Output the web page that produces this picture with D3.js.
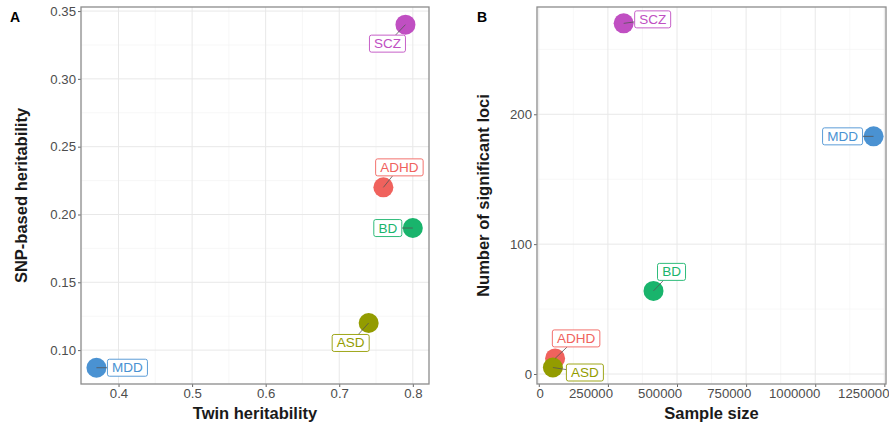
<!DOCTYPE html>
<html>
<head>
<meta charset="utf-8">
<script src="https://cdn.jsdelivr.net/npm/d3@7"></script>
<style>
  body { margin: 0; background: #fff; }
  svg { display: block; font-family: "Liberation Sans", Arial, sans-serif; }
  .tick-label { fill: #4d4d4d; font-size: 13.2px; }
  .axis-title { fill: #1a1a1a; font-weight: bold; }
  .panel-tag { fill: #000; font-size: 14px; font-weight: bold; }
</style>
</head>
<body>
<svg id="chart" width="889" height="422"></svg>
<script>
// ── Data ──
const disorders   = ["ADHD", "ASD", "BD", "MDD", "SCZ"];
const twinH       = [0.76, 0.74, 0.80, 0.37, 0.79];
const snpH        = [0.22, 0.12, 0.19, 0.087, 0.34];
const sampleSize  = [59000, 51000, 415000, 1211000, 307000];
const sigLoci     = [12, 5, 64, 183, 270];

const ticksA_x = [0.4, 0.5, 0.6, 0.7, 0.8];
const ticksA_y = [0.10, 0.15, 0.20, 0.25, 0.30, 0.35];
const ticksB_x = [0, 250000, 500000, 750000, 1000000, 1250000];
const ticksB_y = [0, 100, 200];

const colors = ["#f0625d", "#939c00", "#19b46c", "#4a92d2", "#c04fc2"];

// label offsets (px, from point centre to label-box centre) — layout only
const labelNudgeA = { ADHD: [16, -20], ASD: [-18, 20], BD: [-25, 0], MDD: [31, 0], SCZ: [-18, 19] };
const labelNudgeB = { ADHD: [21, -20], ASD: [32, 5], BD: [18, -19], MDD: [-31, 0], SCZ: [29, -4] };

const svg = d3.select("#chart");

function drawPanel(opt) {
  const g = svg.append("g");
  const x = d3.scaleLinear().domain(opt.xDomain).range([opt.left, opt.right]);
  const y = d3.scaleLinear().domain(opt.yDomain).range([opt.bottom, opt.top]);

  // ── Minor grid ──
  const minor = (t) => d3.range(t.length + 1).map(i => {
    const step = t[1] - t[0];
    return t[0] - step / 2 + i * step;
  });
  minor(opt.xTicks).filter(v => v > opt.xDomain[0] && v < opt.xDomain[1]).forEach(v => {
    g.append("line").attr("x1", x(v)).attr("x2", x(v)).attr("y1", opt.top).attr("y2", opt.bottom)
      .attr("stroke", "#f3f3f3").attr("stroke-width", 0.7);
  });
  minor(opt.yTicks).filter(v => v > opt.yDomain[0] && v < opt.yDomain[1]).forEach(v => {
    g.append("line").attr("x1", opt.left).attr("x2", opt.right).attr("y1", y(v)).attr("y2", y(v))
      .attr("stroke", "#f3f3f3").attr("stroke-width", 0.7);
  });

  // ── Major grid ──
  opt.xTicks.forEach(v => {
    g.append("line").attr("x1", x(v)).attr("x2", x(v)).attr("y1", opt.top).attr("y2", opt.bottom)
      .attr("stroke", "#e8e8e8").attr("stroke-width", 1);
  });
  opt.yTicks.forEach(v => {
    g.append("line").attr("x1", opt.left).attr("x2", opt.right).attr("y1", y(v)).attr("y2", y(v))
      .attr("stroke", "#e8e8e8").attr("stroke-width", 1);
  });

  // ── Axes ──
  const xAxis = g.append("g").attr("transform", `translate(0,${opt.bottom})`)
    .call(d3.axisBottom(x).tickValues(opt.xTicks).tickFormat(opt.xFormat).tickSize(3).tickPadding(2));
  const yAxis = g.append("g").attr("transform", `translate(${opt.left},0)`)
    .call(d3.axisLeft(y).tickValues(opt.yTicks).tickFormat(opt.yFormat).tickSize(3).tickPadding(2));
  [xAxis, yAxis].forEach(a => {
    a.select(".domain").remove();
    a.selectAll(".tick line").attr("stroke", "#666");
    a.selectAll(".tick text").attr("class", "tick-label").attr("font-family", null).attr("font-size", null);
  });
  if (opt.xAnchorEnd) xAxis.selectAll(".tick text").attr("text-anchor", "end").attr("dx", "0.35em");

  // ── Panel border ──
  g.append("rect")
    .attr("x", opt.left).attr("y", opt.top)
    .attr("width", opt.right - opt.left).attr("height", opt.bottom - opt.top)
    .attr("fill", "none").attr("stroke", "#8c8c8c").attr("stroke-width", 1.3);

  // ── Points ──
  const pts = disorders.map((d, i) => ({ name: d, px: x(opt.xs[i]), py: y(opt.ys[i]), color: colors[i] }));
  g.selectAll("circle.pt").data(pts).join("circle")
    .attr("class", "pt")
    .attr("cx", d => d.px).attr("cy", d => d.py).attr("r", 10)
    .attr("fill", d => d.color);

  // ── Repelled labels ──
  pts.forEach(d => {
    const [dx, dy] = opt.nudge[d.name];
    const cx = d.px + dx, cy = d.py + dy;
    const lab = g.append("g");
    const txt = lab.append("text")
      .attr("x", cx).attr("y", cy)
      .attr("text-anchor", "middle").attr("dominant-baseline", "central")
      .attr("font-size", "13.5px").attr("fill", d.color)
      .text(d.name);
    const bb = txt.node().getBBox();
    const w = bb.width + 9, h = 17;
    // segment from point to box edge
    const hx = w / 2, hy = h / 2;
    const t = Math.min(Math.abs(dx) > 0 ? hx / Math.abs(dx) : Infinity, Math.abs(dy) > 0 ? hy / Math.abs(dy) : Infinity);
    const ex = cx - dx * Math.min(t, 1), ey = cy - dy * Math.min(t, 1);
    g.insert("line", () => lab.node())
      .attr("x1", d.px).attr("y1", d.py).attr("x2", ex).attr("y2", ey)
      .attr("stroke", "#555").attr("stroke-width", 0.8);
    lab.insert("rect", "text")
      .attr("x", cx - w / 2).attr("y", cy - h / 2)
      .attr("width", w).attr("height", h).attr("rx", 2)
      .attr("fill", "#fff").attr("stroke", d.color).attr("stroke-width", 0.9);
  });

  // ── Titles ──
  svg.append("text").attr("class", "axis-title")
    .attr("x", (opt.left + opt.right) / 2).attr("y", 418.5)
    .attr("font-size", "16.5px")
    .attr("text-anchor", "middle").text(opt.xTitle);
  svg.append("text").attr("class", "axis-title")
    .attr("transform", `translate(${opt.yTitleX},${(opt.top + opt.bottom) / 2}) rotate(-90)`)
    .attr("font-size", "16.5px")
    .attr("text-anchor", "middle").attr("dominant-baseline", "central").text(opt.yTitle);
  svg.append("text").attr("class", "panel-tag")
    .attr("x", opt.tagX).attr("y", 22).attr("text-anchor", "middle").text(opt.tag);
}

drawPanel({
  left: 81, right: 429, top: 7, bottom: 384,
  xDomain: [0.349, 0.822], yDomain: [0.075, 0.353],
  xTicks: ticksA_x, yTicks: ticksA_y,
  xFormat: d3.format(".1f"), yFormat: d3.format(".2f"),
  xs: twinH, ys: snpH, nudge: labelNudgeA,
  xTitle: "Twin heritability", yTitle: "SNP-based heritability",
  yTitleX: 21, tag: "A", tagX: 15
});

drawPanel({
  left: 537, right: 886, top: 7, bottom: 384,
  xDomain: [-6500, 1256000], yDomain: [-7.7, 282.6],
  xTicks: ticksB_x, yTicks: ticksB_y,
  xFormat: d3.format("d"), yFormat: d3.format("d"),
  xAnchorEnd: true,
  xs: sampleSize, ys: sigLoci, nudge: labelNudgeB,
  xTitle: "Sample size", yTitle: "Number of significant loci",
  yTitleX: 483, tag: "B", tagX: 482
});
</script>
</body>
</html>
